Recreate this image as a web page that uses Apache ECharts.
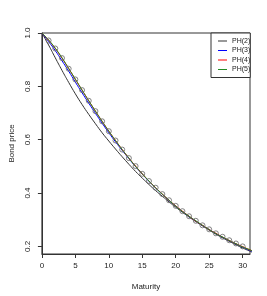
<!DOCTYPE html>
<html><head><meta charset="utf-8">
<script src="https://cdn.jsdelivr.net/npm/echarts@6/dist/echarts.min.js"></script>
<style>html,body{margin:0;padding:0;background:#fff}#c{width:267px;height:296px}</style>
</head><body><div id="c"></div>
<script>
const curveX = [0,1,2,3,4,5,6,7,8,9,10,11,12,13,14,15,16,17,18,19,20,21,22,23,24,25,26,27,28,29,30,31,32];
const ph2 = [1,.955,.907,.860,.815,.772,.732,.695,.660,.626,.595,.565,.536,.508,.481,.456,.432,.409,.388,.367,.347,.328,.310,.293,.277,.261,.246,.232,.219,.206,.194,.183,.172];
const ph3 = [1,.968,.934,.896,.857,.816,.776,.737,.699,.662,.626,.592,.560,.529,.499,.471,.444,.419,.395,.372,.351,.331,.312,.295,.278,.263,.248,.234,.221,.209,.197,.186,.176];
const ph4 = [1,.973,.942,.906,.867,.826,.786,.746,.707,.669,.632,.597,.563,.531,.501,.472,.445,.420,.396,.373,.352,.332,.313,.295,.279,.263,.249,.235,.222,.210,.199,.188,.178];
const ph5 = [1,.974,.943,.907,.867,.827,.786,.746,.707,.669,.632,.597,.563,.531,.500,.472,.445,.419,.396,.373,.351,.331,.313,.296,.279,.263,.248,.235,.222,.210,.198,.188,.178];
const maturity = [1,2,3,4,5,6,7,8,9,10,11,12,13,14,15,16,17,18,19,20,21,22,23,24,25,26,27,28,29,30];
const observed = [.972,.942,.906,.866,.826,.786,.746,.707,.669,.632,.597,.563,.531,.501,.472,.445,.420,.396,.373,.352,.332,.313,.296,.279,.264,.249,.236,.223,.211,.200];
const xTicks = [0,5,10,15,20,25,30];
const yTicks = [0.2,0.4,0.6,0.8,1.0];
const names = ['PH(2)','PH(3)','PH(4)','PH(5)'];
const colors = ['#333333','#0000ff','#ff0000','#228b22'];

const curves = [ph2, ph3, ph4, ph5];
const font = 'Liberation Sans, Arial, sans-serif';
const chart = echarts.init(document.getElementById('c'), null, {renderer:'canvas'});
const series = curves.map((arr, i) => ({
  name: names[i], type: 'line', smooth: true, showSymbol: false, symbol: 'none',
  data: curveX.map((x, j) => [x, arr[j]]),
  lineStyle: {color: colors[i], width: 1}, itemStyle: {color: colors[i]},
  clip: true, z: 2 + i, animation: false
}));
series.push({
  name: 'obs', type: 'scatter', symbol: 'circle', symbolSize: 5,
  data: maturity.map((x, j) => [x, observed[j]]),
  itemStyle: {color: 'rgba(0,0,0,0)', borderColor: '#666', borderWidth: 1},
  z: 10, animation: false
});
chart.setOption({
  animation: false,
  backgroundColor: '#fff',
  grid: {left: 34, right: 17, top: 33, bottom: 42, show: true, borderColor: '#333', borderWidth: 1, backgroundColor: 'transparent'},
  legend: {
    data: names.map(n => ({name: n, icon: 'rect'})),
    orient: 'vertical', left: 211, top: 33,
    itemWidth: 9, itemHeight: 1, itemGap: 1.5,
    padding: [4, 0, 4, 7],
    borderColor: '#333', borderWidth: 1, borderRadius: 0, backgroundColor: '#fff',
    textStyle: {fontFamily: font, fontSize: 7, color: '#222', lineHeight: 8},
    z: 20
  },
  xAxis: {
    type: 'value', min: 0, max: 31.1,
    name: 'Maturity', nameLocation: 'middle', nameGap: 29,
    nameTextStyle: {fontFamily: font, fontSize: 8, color: '#222'},
    axisLine: {show: true, onZero: false, lineStyle: {color: '#333', width: 1}},
    axisTick: {show: true, length: 4, customValues: xTicks, lineStyle: {color: '#333'}},
    axisLabel: {customValues: xTicks, margin: 8, fontFamily: font, fontSize: 8, color: '#222'},
    splitLine: {show: false}
  },
  yAxis: {
    type: 'value', min: 0.1715, max: 1.0,
    name: 'Bond price', nameLocation: 'middle', nameGap: 22, nameRotate: 90,
    nameTextStyle: {fontFamily: font, fontSize: 8, color: '#222'},
    axisLine: {show: true, onZero: false, lineStyle: {color: '#333', width: 1}},
    axisTick: {show: true, length: 4, customValues: yTicks, lineStyle: {color: '#333'}},
    axisLabel: {customValues: yTicks, rotate: 90, margin: 10, fontFamily: font, fontSize: 8, color: '#222',
      formatter: v => v.toFixed(1)},
    splitLine: {show: false}
  },
  series: series
});
</script></body></html>
